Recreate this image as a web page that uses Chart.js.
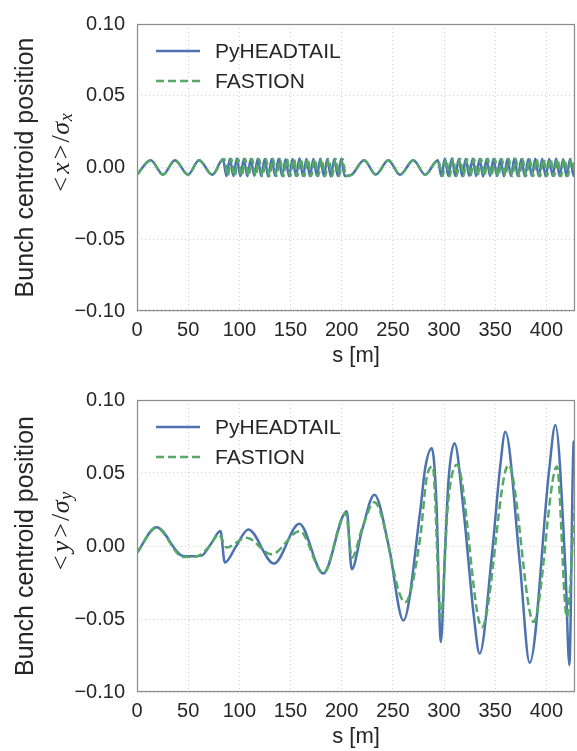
<!DOCTYPE html>
<html><head><meta charset="utf-8">
<script src="https://cdn.jsdelivr.net/npm/chart.js@4.4.1/dist/chart.umd.min.js"></script>
<style>
html,body{margin:0;padding:0;background:#fff;}
#wrap{position:relative;width:577px;height:751px;overflow:hidden;}
canvas{position:absolute;left:0;}
</style></head><body>
<div id="wrap">
<canvas id="c1" width="577" height="376" style="top:0"></canvas>
<canvas id="c2" width="577" height="375" style="top:376px"></canvas>
</div>
<script>
// ---------------- data ----------------
const seriesNames = ['PyHEADTAIL', 'FASTION'];
const xTicks = [0, 50, 100, 150, 200, 250, 300, 350, 400];
const yTicks = [-0.10, -0.05, 0.00, 0.05, 0.10];
const sMin = 0, sMax = 428;

// top panel: <x>/sigma_x  (extrema)
const sPyX = [0, 13.4, 25.4, 37.1, 49.9, 60.6, 73.6,
  84.0, 87.4, 90.8, 94.2, 97.6, 101.0, 104.4, 107.8, 111.2, 114.6, 118.0, 121.4,
  124.8, 128.2, 131.6, 135.0, 138.4, 141.8, 145.2, 148.6, 152.0, 155.4, 158.8, 162.2,
  165.6, 169.0, 172.4, 175.8, 179.2, 182.6, 186.0, 189.4, 192.8, 196.2, 199.6, 203.0,
  209.8, 221.9, 233.3, 245.6, 257.0, 270.1, 281.6, 294.0,
  297.4, 300.8, 304.2, 307.6, 311.0, 314.4, 317.8, 321.2, 324.6, 328.0, 331.4, 334.8,
  338.2, 341.6, 345.0, 348.4, 351.8, 355.2, 358.6, 362.0, 365.4, 368.8, 372.2, 375.6,
  379.0, 382.4, 385.8, 389.2, 392.6, 396.0, 399.4, 402.8, 406.2, 409.6, 413.0, 416.4,
  419.8, 423.2, 426.6, 428];
const vPyX = [-0.0050, 0.0050, -0.0049, 0.0051, -0.0050, 0.0050, -0.0050,
  0.0058, -0.0060, 0.0061, -0.0059, 0.0062, -0.0060, 0.0059, -0.0061, 0.0060, -0.0058, 0.0061, -0.0060,
  0.0059, -0.0062, 0.0060, -0.0059, 0.0061, -0.0060, 0.0058, -0.0061, 0.0060, -0.0059, 0.0062, -0.0060,
  0.0059, -0.0061, 0.0060, -0.0058, 0.0061, -0.0060, 0.0059, -0.0062, 0.0060, -0.0059, 0.0061, -0.0060,
  -0.0050, 0.0050, -0.0049, 0.0051, -0.0050, 0.0050, -0.0050, 0.0050,
  -0.0060, 0.0061, -0.0059, 0.0062, -0.0060, 0.0059, -0.0061, 0.0060, -0.0058, 0.0061, -0.0060, 0.0059,
  -0.0062, 0.0060, -0.0059, 0.0061, -0.0060, 0.0058, -0.0061, 0.0060, -0.0059, 0.0062, -0.0060, 0.0059,
  -0.0061, 0.0060, -0.0058, 0.0061, -0.0060, 0.0059, -0.0062, 0.0060, -0.0059, 0.0061, -0.0060, 0.0058,
  -0.0061, 0.0060, -0.0059, 0.0010];

const sFaX = [0, 13.4, 25.4, 37.1, 49.9, 60.6, 73.6,
  85.2, 88.6, 92.0, 95.4, 98.8, 102.2, 105.6, 109.0, 112.4, 115.8, 119.2, 122.6,
  126.0, 129.4, 132.8, 136.2, 139.6, 143.0, 146.4, 149.8, 153.2, 156.6, 160.0, 163.4,
  166.8, 170.2, 173.6, 177.0, 180.4, 183.8, 187.2, 190.6, 194.0, 197.4, 200.8, 204.2,
  209.8, 221.9, 233.3, 245.6, 257.0, 270.1, 281.6, 294.0,
  298.6, 302.0, 305.4, 308.8, 312.2, 315.6, 319.0, 322.4, 325.8, 329.2, 332.6, 336.0,
  339.4, 342.8, 346.2, 349.6, 353.0, 356.4, 359.8, 363.2, 366.6, 370.0, 373.4, 376.8,
  380.2, 383.6, 387.0, 390.4, 393.8, 397.2, 400.6, 404.0, 407.4, 410.8, 414.2, 417.6,
  421.0, 424.4, 427.8];
const vFaX = [-0.0050, 0.0050, -0.0050, 0.0050, -0.0050, 0.0050, -0.0050,
  0.0060, -0.0059, 0.0060, -0.0061, 0.0059, -0.0060, 0.0061, -0.0059, 0.0060, -0.0060, 0.0059, -0.0061,
  0.0060, -0.0059, 0.0061, -0.0060, 0.0059, -0.0061, 0.0060, -0.0059, 0.0061, -0.0060, 0.0059, -0.0061,
  0.0060, -0.0059, 0.0061, -0.0060, 0.0059, -0.0061, 0.0060, -0.0059, 0.0061, -0.0060, 0.0059, -0.0060,
  -0.0050, 0.0050, -0.0050, 0.0050, -0.0050, 0.0050, -0.0050, 0.0050,
  -0.0059, 0.0060, -0.0061, 0.0059, -0.0060, 0.0061, -0.0059, 0.0060, -0.0060, 0.0059, -0.0061, 0.0060,
  -0.0059, 0.0061, -0.0060, 0.0059, -0.0061, 0.0060, -0.0059, 0.0061, -0.0060, 0.0059, -0.0061, 0.0060,
  -0.0059, 0.0061, -0.0060, 0.0059, -0.0061, 0.0060, -0.0059, 0.0061, -0.0060, 0.0059, -0.0061, 0.0060,
  -0.0059, 0.0060, -0.0060];

// bottom panel: <y>/sigma_y
const sPyY = [0, 19, 45, 54, 63, 72, 81.6, 85.8, 97, 108.7, 133.8, 158.6, 182, 205, 209.8, 220, 232,
  246, 260.3, 276.7, 281.6, 288.1, 292.6, 296.9, 301.2, 304.4, 310.3, 319, 329, 334.8, 346.8, 355,
  359.9, 374, 383.7, 402.6, 408.8, 418.6, 422.5, 426.7, 428];
const vPyY = [-0.0046, 0.0129, -0.0068, -0.0070, -0.0066, 0.0012, 0.0102, -0.0113, 0.0000, 0.0113,
  -0.0120, 0.0152, -0.0188, 0.0238, -0.0159, 0.0110, 0.0351, 0.0000, -0.0510, 0.0238, 0.0533,
  0.0669, 0.0300, -0.0658, 0.0000, 0.0450, 0.0703, 0.0250, -0.0470, -0.0737, -0.0060, 0.0550,
  0.0782, -0.0110, -0.0800, 0.0510, 0.0828, -0.0150, -0.0816, 0.0714, 0.0720];

const sFaY = [0, 19, 45, 58, 71, 80, 87.5, 107, 131.5, 159, 182, 204, 210, 220, 232, 262, 276.7,
  283, 289, 296.9, 304, 312.6, 337, 363, 387.6, 410.4, 420, 428];
const vFaY = [-0.0046, 0.0125, -0.0075, -0.0072, 0.0000, 0.0080, -0.0010, 0.0057, -0.0057, 0.0102,
  -0.0186, 0.0225, -0.0080, 0.0120, 0.0300, -0.0386, 0.0057, 0.0465, 0.0544, -0.0488, 0.0300,
  0.0556, -0.0556, 0.0556, -0.0520, 0.0544, -0.0488, 0.0300];

// ---------------- styling ----------------
const BLUE = '#4C72B0', GREEN = '#55A868', TXT = '#262626';
const SANS = '"Liberation Sans", Arial, sans-serif';
const SERIF = '"Liberation Serif", "DejaVu Serif", serif';

function pts(s, v) { return s.map((x, i) => ({x: x, y: v[i]})); }

const framePlugin = {
  id: 'frame',
  afterDatasetsDraw(chart) {
    const {ctx, chartArea: a} = chart;
    ctx.save();
    ctx.strokeStyle = '#8c8c8c';
    ctx.lineWidth = 1.25;
    ctx.strokeRect(Math.round(a.left) + 0.5, Math.round(a.top) + 0.5,
      Math.round(a.right - a.left) - 1, Math.round(a.bottom - a.top) - 1);
    ctx.restore();
  }
};

const legendPlugin = {
  id: 'inlegend',
  afterDraw(chart) {
    const {ctx, chartArea: a} = chart;
    chart.data.datasets.forEach((ds, i) => {
      const y = a.top + 27 + 30 * i;
      ctx.save();
      ctx.strokeStyle = ds.borderColor;
      ctx.lineWidth = ds.borderWidth;
      ctx.setLineDash(ds.borderDash || []);
      ctx.beginPath();
      ctx.moveTo(a.left + 19, y);
      ctx.lineTo(a.left + 63, y);
      ctx.stroke();
      ctx.setLineDash([]);
      ctx.fillStyle = TXT;
      ctx.font = '21px ' + SANS;
      ctx.textBaseline = 'middle';
      ctx.textAlign = 'left';
      ctx.fillText(ds.label, a.left + 78, y + 1);
      ctx.restore();
    });
  }
};

function yLabelPlugin(sym) {
  return {
    id: 'ylab',
    afterDraw(chart) {
      const {ctx, chartArea: a} = chart;
      const cy = (a.top + a.bottom) / 2;
      ctx.save();
      ctx.fillStyle = TXT;
      ctx.translate(26, cy);
      ctx.rotate(-Math.PI / 2);
      ctx.font = '25px ' + SANS;
      ctx.textAlign = 'center';
      ctx.textBaseline = 'middle';
      ctx.fillText('Bunch centroid position', 0, 0);
      ctx.restore();

      // math line  <x>/σ_x
      const size = 26;
      const parts = [
        {t: '<', f: size + 'px ' + SERIF, dy: 0, gap: 0.12},
        {t: sym, f: 'italic ' + size + 'px ' + SERIF, dy: 0, gap: 0.12},
        {t: '>', f: size + 'px ' + SERIF, dy: 0, gap: 0.08},
        {t: '/', f: size + 'px ' + SERIF, dy: 0, gap: 0.02},
        {t: 'σ', f: 'italic ' + size + 'px ' + SERIF, dy: 0, gap: 0.02},
        {t: sym, f: 'italic ' + Math.round(size * 0.7) + 'px ' + SERIF, dy: size * 0.22, gap: 0}
      ];
      ctx.save();
      let total = 0;
      parts.forEach(p => { ctx.font = p.f; p.w = ctx.measureText(p.t).width; total += p.w + p.gap * size; });
      ctx.fillStyle = TXT;
      ctx.translate(62, cy - 15);
      ctx.rotate(-Math.PI / 2);
      ctx.textBaseline = 'middle';
      ctx.textAlign = 'left';
      let x = -total / 2;
      parts.forEach(p => { ctx.font = p.f; ctx.fillText(p.t, x, p.dy); x += p.w + p.gap * size; });
      ctx.restore();
    }
  };
}

function makeChart(id, datasets, areaTop, areaBottom, canvasH, titlePadBottom, sym) {
  const canvas = document.getElementById(id);
  return new Chart(canvas, {
    type: 'line',
    data: { datasets: datasets },
    plugins: [framePlugin, legendPlugin, yLabelPlugin(sym)],
    options: {
      responsive: false, animation: false, devicePixelRatio: 1,
      layout: { padding: { top: areaTop, right: 2, left: 0, bottom: 0 } },
      elements: { point: { radius: 0 } },
      plugins: { legend: { display: false }, tooltip: { enabled: false } },
      scales: {
        x: {
          type: 'linear', min: sMin, max: sMax,
          afterBuildTicks: s => { s.ticks = xTicks.map(v => ({value: v})); },
          afterFit: s => { s.height = canvasH - areaBottom; },
          grid: { color: '#cfcfcf', lineWidth: 1, drawTicks: false },
          border: { display: false, dash: [1, 3] },
          ticks: { padding: 7, color: TXT, font: { family: SANS, size: 20 }, maxRotation: 0, autoSkip: false,
                   callback: v => String(v) },
          title: { display: true, text: 's [m]', color: TXT, font: { family: SANS, size: 22 },
                   padding: { top: 0, bottom: titlePadBottom } }
        },
        y: {
          type: 'linear', min: yTicks[0], max: yTicks[yTicks.length - 1],
          afterBuildTicks: s => { s.ticks = yTicks.map(v => ({value: v})); },
          afterFit: s => { s.width = 137; },
          grid: { color: '#cfcfcf', lineWidth: 1, drawTicks: false },
          border: { display: false, dash: [1, 3] },
          ticks: { padding: 12, color: TXT, font: { family: SANS, size: 20 },
                   callback: v => (v < -1e-9 ? '\u2212' : '') + Math.abs(v).toFixed(2) }
        }
      }
    }
  });
}

function ds(label, data, color, dash, order) {
  return { label: label, data: data, borderColor: color, borderWidth: 2.5, borderDash: dash,
           fill: false, cubicInterpolationMode: 'monotone', order: order, pointRadius: 0 };
}

makeChart('c1', [
  ds(seriesNames[0], pts(sPyX, vPyX), BLUE, [], 2),
  ds(seriesNames[1], pts(sFaX, vFaX), GREEN, [8, 4], 1)
], 15, 311, 376, 7, 'x');

makeChart('c2', [
  ds(seriesNames[0], pts(sPyY, vPyY), BLUE, [], 2),
  ds(seriesNames[1], pts(sFaY, vFaY), GREEN, [8, 4], 1)
], 22, 316, 375, 1, 'y');
</script>
</body></html>
